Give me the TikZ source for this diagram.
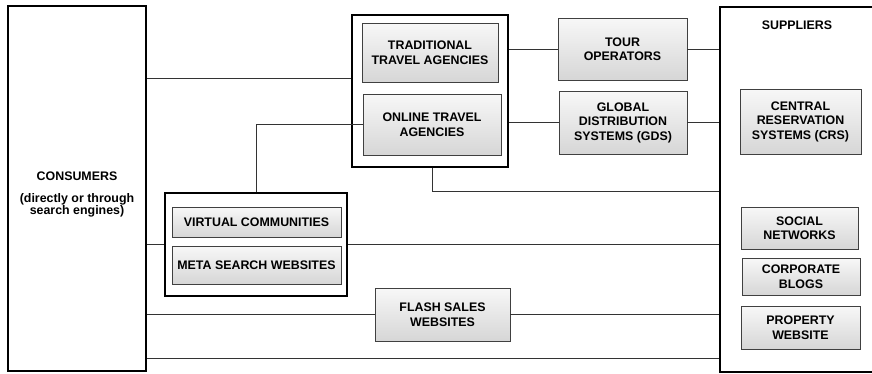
\documentclass[tikz,border=0pt]{standalone}
\usepackage{fontspec}
\setmainfont{Liberation Sans}
\tikzset{
	outer/.style={draw,line width=1.4pt},
	group/.style={draw,line width=1.9pt},
	item/.style={draw=black!75,line width=0.6pt,top color=gray!6,bottom color=gray!32,align=center,inner sep=0pt},
	link/.style={draw=black!80,line width=0.6pt}
}
\begin{document}
\begin{tikzpicture}[x=1pt,y=-1pt,font=\bfseries\fontsize{12.4}{14.5}\selectfont]
			\clip (0,0) rectangle (872,373);
			% big side boxes
			\node[outer,minimum width=138pt,minimum height=365pt] (cons) at (77,188.5) {};
			\node[align=center] (constitle) at (77,176) {CONSUMERS};
			\node[align=center,anchor=north,font=\bfseries\fontsize{12.4}{12}\selectfont] (consnote) at (77,189.5) {(directly or through\\search engines)};
			\node[outer,minimum width=154pt,minimum height=365pt] (supp) at (797,189.5) {};
			\node (supptitle) at (797,25) {SUPPLIERS};
			% grouped boxes
			\node[group,minimum width=156pt,minimum height=152pt] (agencies) at (430,91) {};
			\node[group,minimum width=182pt,minimum height=103pt] (vgroup) at (256,244.5) {};
			\node[item,minimum width=136pt,minimum height=59pt] (tta) at (430,52.5) {TRADITIONAL\\TRAVEL AGENCIES};
			\node[item,minimum width=138pt,minimum height=61pt] (ota) at (432,124.5) {ONLINE TRAVEL\\AGENCIES};
			\node[item,minimum width=169pt,minimum height=30pt] (vc) at (256.5,222) {VIRTUAL COMMUNITIES};
			\node[item,minimum width=169pt,minimum height=38pt] (meta) at (256.5,265) {META SEARCH WEBSITES};
			% intermediaries
			\node[item,minimum width=129pt,minimum height=62pt] (tour) at (622.5,49) {TOUR\\OPERATORS};
			\node[item,minimum width=128pt,minimum height=63pt] (gds) at (623,122.5) {GLOBAL\\DISTRIBUTION\\SYSTEMS (GDS)};
			\node[item,minimum width=135pt,minimum height=53pt] (flash) at (442.5,314.5) {FLASH SALES\\WEBSITES};
			% supplier channels
			\node[item,minimum width=121pt,minimum height=65pt] (crs) at (800.5,121.5) {CENTRAL\\RESERVATION\\SYSTEMS (CRS)};
			\node[item,minimum width=117pt,minimum height=42pt] (social) at (799.5,228) {SOCIAL\\NETWORKS};
			\node[item,minimum width=118pt,minimum height=37pt] (blogs) at (801,276.5) {CORPORATE\\BLOGS};
			\node[item,minimum width=119pt,minimum height=43pt] (prop) at (800.5,327.5) {PROPERTY\\WEBSITE};
			% links
			\draw[link] (cons.east |- 0,78) -- (agencies.west |- 0,78);
			\draw[link] (agencies.east |- tour.west) -- (tour.west) (tour.east) -- (tour.east -| supp.west);
			\draw[link] (agencies.east |- gds.west) -- (gds.west) (gds.east) -- (gds.east -| supp.west);
			\draw[link] (ota.west) -| (vgroup.north);
			\draw[link] (ota.south |- agencies.south) |- (supp.west |- 0,191);
			\draw[link] (cons.east |- vgroup.west) -- (vgroup.west) (vgroup.east) -- (vgroup.east -| supp.west);
			\draw[link] (cons.east |- flash.west) -- (flash.west) (flash.east) -- (flash.east -| supp.west);
			\draw[link] (cons.east |- 0,358) -- (supp.west |- 0,358);
		\end{tikzpicture}
\end{document}
